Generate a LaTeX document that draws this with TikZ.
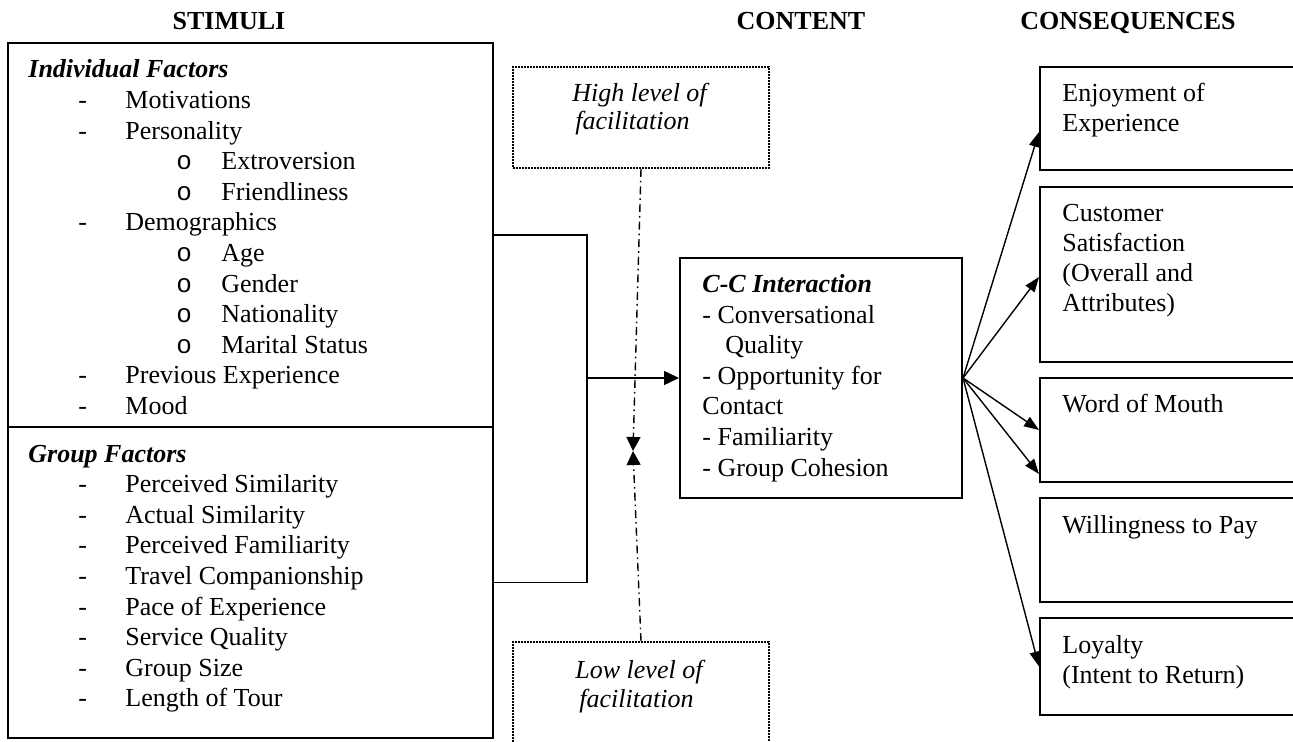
\documentclass[tikz,border=0pt]{standalone}
\usepackage{fontspec}
\setmainfont{Liberation Serif}
\setmonofont{Liberation Mono}
\usetikzlibrary{arrows.meta,fit}

\begin{document}
\begin{tikzpicture}[x=0.5pt,y=-0.5pt,
  every node/.style={inner sep=0pt, font=\fontsize{13}{15}\selectfont},
  txt/.style={anchor=base west},
  head/.style={anchor=base, font=\fontsize{13}{15}\selectfont\bfseries},
  frame/.style={draw, line width=1pt, inner sep=0pt, fit={#1}},
  dotbox/.style={draw, line width=0.8pt, dash pattern=on 0.8pt off 0.7pt, inner sep=0pt, fit={#1}},
  link/.style={line width=0.7pt},
  arr/.style={link, -{Triangle[length=7.5pt,width=7pt]}},
  fan/.style={link, -{Triangle[length=7.5pt,width=5.5pt]}},
  dashdot/.style={line width=0.7pt, dash pattern=on 4pt off 2pt on 0.8pt off 2pt,
                  -{Triangle[length=7pt,width=7pt]}},
]
\path[fill=white, use as bounding box] (0,0) rectangle (1293,742);

% column headings
\node[head] (hstim) at (229,30) {STIMULI};
\node[head] (hcont) at (801,30) {CONTENT};
\node[head] (hcons) at (1128,30) {CONSEQUENCES};

% stimuli boxes
\node[frame={(8,43) (493,427)}] (indiv) {};
\node[frame={(8,427) (493,738)}] (group) {};

\node[txt, font=\fontsize{13}{15}\selectfont\bfseries\itshape] (indivh) at (28,78) {Individual Factors};
\foreach \lv/\t [count=\i] in {1/Motivations, 1/Personality, 2/Extroversion, 2/Friendliness,
    1/Demographics, 2/Age, 2/Gender, 2/Nationality, 2/Marital Status,
    1/Previous Experience, 1/Mood} {
  \pgfmathsetmacro{\yy}{78+30.6*\i}
  \ifnum\lv=1
    \node[txt] (im\i) at (78,\yy) {-};
    \node[txt] (it\i) at (125,\yy) {\t};
  \else
    \node[txt, font=\fontsize{13}{15}\selectfont\ttfamily] (im\i) at (176,\yy) {o};
    \node[txt] (it\i) at (221,\yy) {\t};
  \fi
}

\node[txt, font=\fontsize{13}{15}\selectfont\bfseries\itshape] (grouph) at (28,462) {Group Factors};
\foreach \t [count=\i] in {Perceived Similarity, Actual Similarity, Perceived Familiarity,
    Travel Companionship, Pace of Experience, Service Quality, Group Size, Length of Tour} {
  \pgfmathsetmacro{\yy}{462+30.6*\i}
  \node[txt] (gm\i) at (78,\yy) {-};
  \node[txt] (gt\i) at (125,\yy) {\t};
}

% content box
\node[frame={(680,258) (962,498)}] (cc) {};
\node[txt, font=\fontsize{13}{15}\selectfont\bfseries\itshape] (cch) at (702,293) {C-C Interaction};
\node[txt] (cc1) at (702,323.5) {- Conversational};
\node[txt] (cc2) at (725,354) {Quality};
\node[txt] (cc3) at (702,384.5) {- Opportunity for};
\node[txt] (cc4) at (702,415) {Contact};
\node[txt] (cc5) at (702,445.5) {- Familiarity};
\node[txt] (cc6) at (702,476) {- Group Cohesion};

% facilitation boxes
\node[dotbox={(513,67) (769,168)}] (hi) {};
\node[txt, font=\fontsize{13}{15}\selectfont\itshape] (hi1) at (572,102) {High level of};
\node[txt, font=\fontsize{13}{15}\selectfont\itshape] (hi2) at (575,130) {facilitation};
\node[dotbox={(513,642) (769,770)}] (lo) {};
\node[txt, font=\fontsize{13}{15}\selectfont\itshape] (lo1) at (575,678) {Low level of};
\node[txt, font=\fontsize{13}{15}\selectfont\itshape] (lo2) at (579,707) {facilitation};

% consequence boxes
\node[frame={(1040,67) (1310,170)}] (enjoy) {};
\node[frame={(1040,187) (1310,362)}] (sat) {};
\node[frame={(1040,378) (1310,482)}] (wom) {};
\node[frame={(1040,498) (1310,602)}] (pay) {};
\node[frame={(1040,618) (1310,715)}] (loyal) {};

\node[txt] (en1) at (1062,102) {Enjoyment of};
\node[txt] (en2) at (1062,132) {Experience};
\node[txt] (sa1) at (1062,222) {Customer};
\node[txt] (sa2) at (1062,252) {Satisfaction};
\node[txt] (sa3) at (1062,282) {(Overall and};
\node[txt] (sa4) at (1062,312) {Attributes)};
\node[txt] (wo1) at (1062,413) {Word of Mouth};
\node[txt] (pa1) at (1062,533) {Willingness to Pay};
\node[txt] (lo1t) at (1062,653) {Loyalty};
\node[txt] (lo2t) at (1062,683) {(Intent to Return)};

% stimuli bracket into the content box
\coordinate (join) at (587,378);
\draw[link] (indiv.east) -| (join);
\draw[link] (group.east) -| (join);
\draw[arr] (join) -- (cc.west);

% facilitation arrows
\coordinate (meet) at (633,451);
\draw[dashdot] (hi.south) -- (meet);
\draw[dashdot] (lo.north) -- (meet);

% consequences fan
\draw[fan] (cc.east) -- ([yshift=-6.75pt]enjoy.west);
\draw[fan] (cc.east) -- ([yshift=-1.25pt]sat.west);
\draw[fan] (cc.east) -- (wom.west);
\draw[fan] (cc.east) -- ([yshift=4.5pt]wom.south west);
\draw[fan] (cc.east) -- (loyal.west);
\end{tikzpicture}
\end{document}
